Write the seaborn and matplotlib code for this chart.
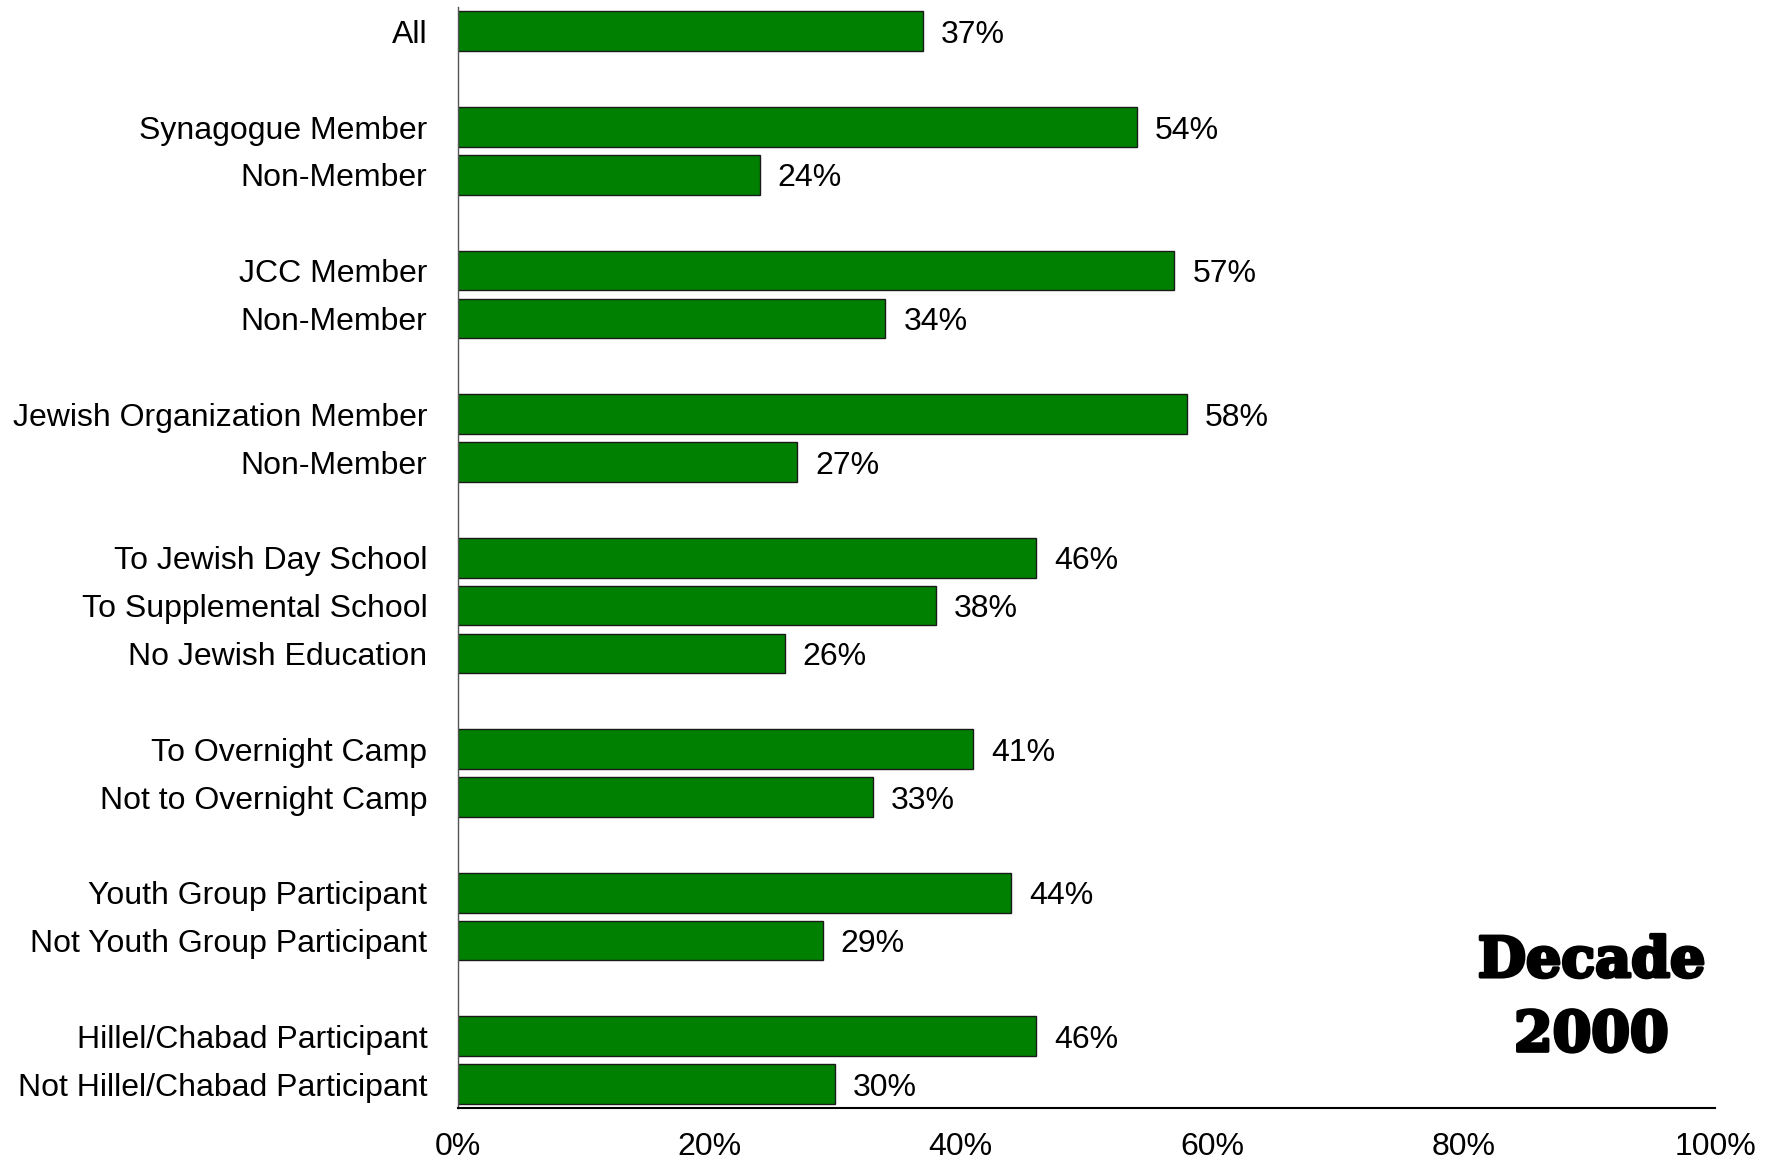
import matplotlib
matplotlib.use("Agg")
import matplotlib.pyplot as plt
import matplotlib.patheffects as pe
import seaborn as sns
import pandas as pd

# Data
keys = ["all", "g1", "syn_m", "syn_n", "g2", "jcc_m", "jcc_n", "g3", "org_m", "org_n", "g4",
        "day", "supp", "noedu", "g5", "camp", "nocamp", "g6", "youth", "noyouth", "g7",
        "hillel", "nohillel"]
labels = ["All", "", "Synagogue Member", "Non-Member", "", "JCC Member", "Non-Member", "",
          "Jewish Organization Member", "Non-Member", "", "To Jewish Day School",
          "To Supplemental School", "No Jewish Education", "", "To Overnight Camp",
          "Not to Overnight Camp", "", "Youth Group Participant", "Not Youth Group Participant",
          "", "Hillel/Chabad Participant", "Not Hillel/Chabad Participant"]
bar_keys = ["all", "syn_m", "syn_n", "jcc_m", "jcc_n", "org_m", "org_n", "day", "supp", "noedu",
            "camp", "nocamp", "youth", "noyouth", "hillel", "nohillel"]
values = [37, 54, 24, 57, 34, 58, 27, 46, 38, 26, 41, 33, 44, 29, 46, 30]
xticks = [0, 20, 40, 60, 80, 100]
xtick_labels = ["0%", "20%", "40%", "60%", "80%", "100%"]

df = pd.DataFrame({"key": bar_keys, "value": values})

sns.set_theme(style="white")
plt.rcParams["font.family"] = ["Liberation Sans", "DejaVu Sans"]
plt.rcParams["text.color"] = "black"
plt.rcParams["xtick.color"] = "black"
plt.rcParams["ytick.color"] = "black"

fig = plt.figure(figsize=(17.73, 11.61), dpi=100)
ax = fig.add_axes([0.2583, 0.0456, 0.7090, 0.9480])

sns.barplot(data=df, x="value", y="key", order=keys, orient="h", color="#008000",
            saturation=1, width=0.83, edgecolor="#1a1a1a", linewidth=1.0, ax=ax)

for c in ax.containers:
    texts = ax.bar_label(c, fmt="{:.0f}%", padding=13, fontsize=23, color="black")
    for t in texts:
        t.set_va("center_baseline")

ax.set_xlim(0, 100)
ax.set_ylim(len(keys) - 0.5, -0.5)
ax.set_xticks(xticks)
ax.set_xticklabels(xtick_labels, fontsize=23, color="black")
ax.set_yticks(range(len(keys)))
ax.set_yticklabels(labels, fontsize=23, color="black")
ax.tick_params(axis="y", length=0, pad=22)
ax.tick_params(axis="x", length=0, pad=17)
ax.set_xlabel("")
ax.set_ylabel("")

for s in ["top", "right"]:
    ax.spines[s].set_visible(False)
ax.spines["left"].set_color("#555555")
ax.spines["left"].set_linewidth(1.0)
ax.spines["bottom"].set_color("black")
ax.spines["bottom"].set_linewidth(1.5)

stroke = [pe.withStroke(linewidth=2.5, foreground="black")]
fig.text(0.8975, 0.172, "Decade", fontsize=40, fontweight="bold", family="DejaVu Serif",
         ha="center", va="center", color="black", path_effects=stroke)
fig.text(0.8975, 0.108, "2000", fontsize=40, fontweight="bold", family="DejaVu Serif",
         ha="center", va="center", color="black", path_effects=stroke)

fig.savefig("out.png", dpi=100, facecolor="white")
